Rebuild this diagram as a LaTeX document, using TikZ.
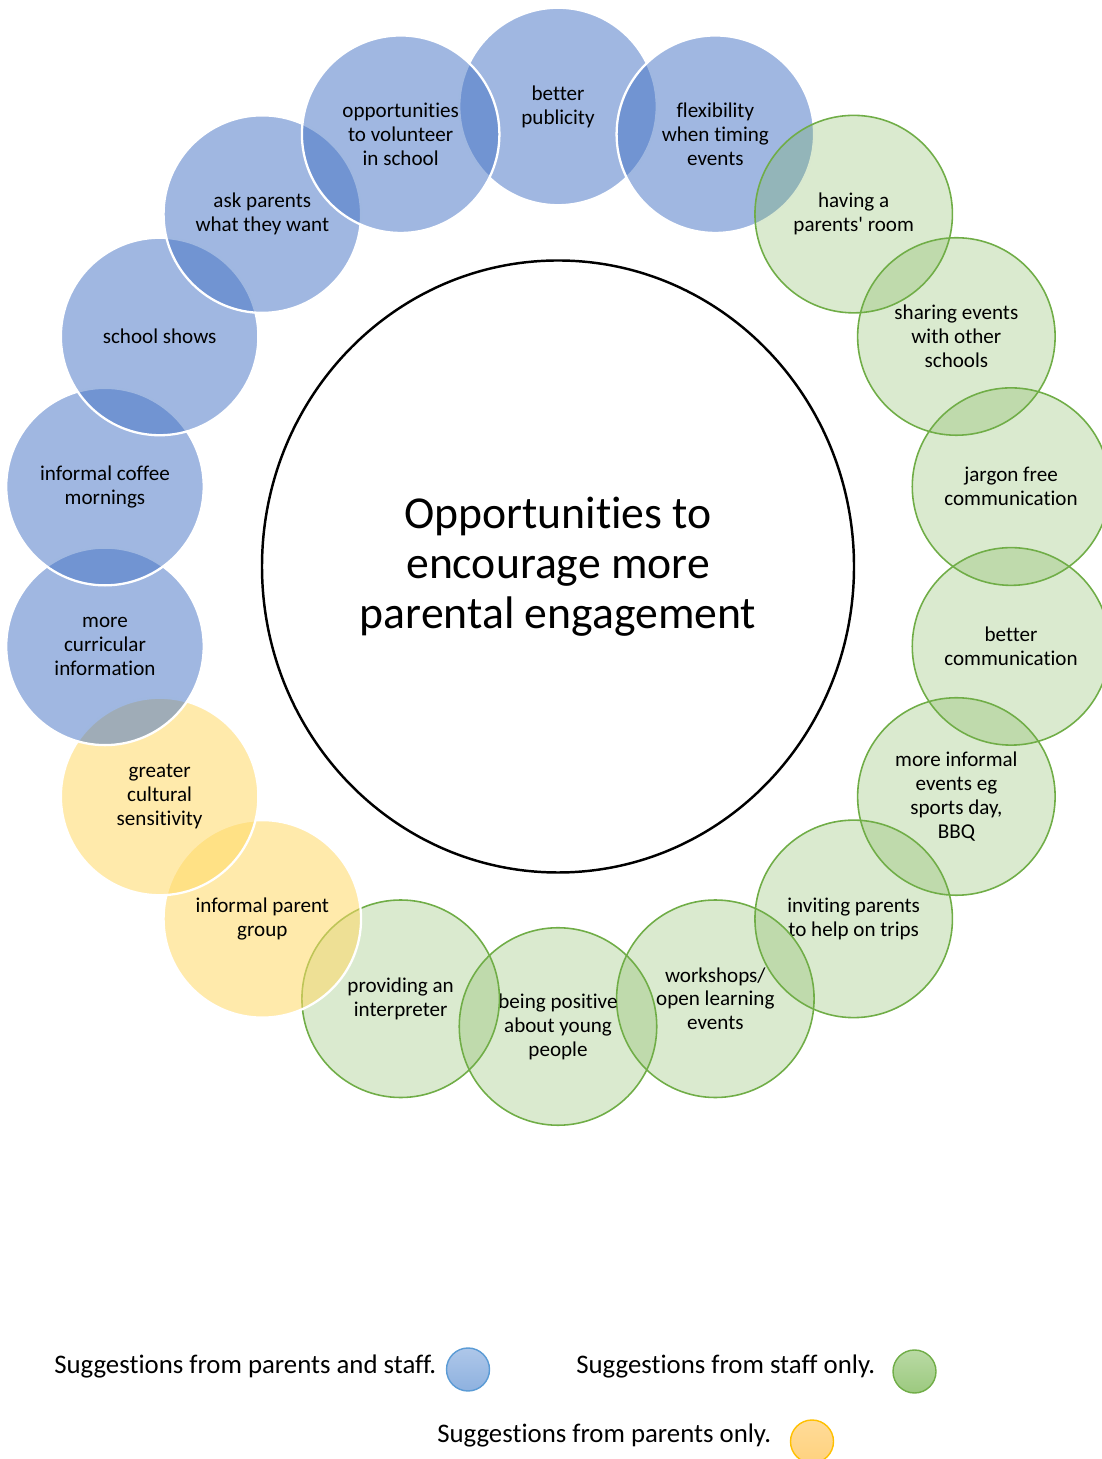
\documentclass[tikz,border=0pt]{standalone}
\usepackage{fontspec}
\setmainfont{Carlito}[Ligatures=NoCommon]
\usetikzlibrary{shapes.geometric}
\definecolor{bubblue}{HTML}{4472C4}
\definecolor{bubgreen}{HTML}{70AD47}
\definecolor{bubyellow}{HTML}{FFD966}
\definecolor{dotblueline}{HTML}{5B9BD5}
\definecolor{dotbluetop}{HTML}{AEC7E9}
\definecolor{dotbluebot}{HTML}{8EB1DF}
\definecolor{dotgreentop}{HTML}{B9DAA4}
\definecolor{dotgreenbot}{HTML}{9CC97F}
\definecolor{dotyellowline}{HTML}{FFC000}
\definecolor{dotyellowtop}{HTML}{FFDB98}
\definecolor{dotyellowbot}{HTML}{FFD27E}
\tikzset{
	bubble/.style={circle, minimum size=3.95cm, inner sep=0pt, align=center, text opacity=1, font=\fontsize{12}{13.6}\selectfont},
	bluebub/.style={bubble, fill=bubblue, fill opacity=0.51, draw=white, line width=1.3pt},
	greenbub/.style={bubble, fill=bubgreen, fill opacity=0.26, draw=bubgreen, line width=0.9pt},
	yellowbub/.style={bubble, fill=bubyellow, fill opacity=0.55, draw=white, line width=1.3pt},
	legtext/.style={anchor=base west, inner sep=0pt, font=\fontsize{15.25}{18}\selectfont},
	legdot/.style={circle, minimum size=0.86cm, inner sep=0pt, line width=0.8pt}
}
\begin{document}
\begin{tikzpicture}
	\useasboundingbox (0, 0) rectangle (22.02, 29.18);
	% middle circle
	\node[draw, ellipse, fill=white, line width=1.4pt, minimum width=11.84cm, minimum height=12.24cm, inner sep=0pt, align=center, font=\fontsize{26}{28.6}\selectfont] (hub) at (11.16, 17.85) {Opportunities to\\encourage more\\parental engagement};
	% ring of suggestions, clockwise from the top
	\foreach \ang/\kind/\txt [count=\i] in {
		90/bluebub/{better\\publicity},
		70/bluebub/{flexibility\\when timing\\events},
		50/greenbub/{having a\\parents\textquotesingle{} room},
		30/greenbub/{sharing events\\with other\\schools},
		10/greenbub/{jargon free\\communication},
		-10/greenbub/{better\\communication},
		-30/greenbub/{more informal\\events eg\\sports day,\\BBQ},
		-50/greenbub/{inviting parents\\to help on trips},
		-70/greenbub/{workshops/\\open learning\\events},
		-90/greenbub/{being positive\\about young\\people},
		-110/greenbub/{providing an\\interpreter},
		-130/yellowbub/{informal parent\\group},
		-150/yellowbub/{greater\\cultural\\sensitivity},
		-170/bluebub/{more\\curricular\\information},
		170/bluebub/{informal coffee\\mornings},
		150/bluebub/{school shows},
		130/bluebub/{ask parents\\what they want},
		110/bluebub/{opportunities\\to volunteer\\in school}}
		\node[\kind] (bub\i) at ([shift={(\ang:9.2)}]hub.center) {\txt};
	% legend
	\node[legtext] (legboth) at (1.08, 1.70) {Suggestions from parents and staff.};
	\node[legdot, draw=dotblueline, top color=dotbluetop, bottom color=dotbluebot] (dotboth) at (9.36, 1.79) {};
	\node[legtext] (legstaff) at (11.52, 1.70) {Suggestions from staff only.};
	\node[legdot, draw=bubgreen, top color=dotgreentop, bottom color=dotgreenbot] (dotstaff) at (18.29, 1.75) {};
	\node[legtext] (legparents) at (8.74, 0.32) {Suggestions from parents only.};
	\node[legdot, draw=dotyellowline, top color=dotyellowtop, bottom color=dotyellowbot] (dotparents) at (16.24, 0.35) {};
\end{tikzpicture}
\end{document}
